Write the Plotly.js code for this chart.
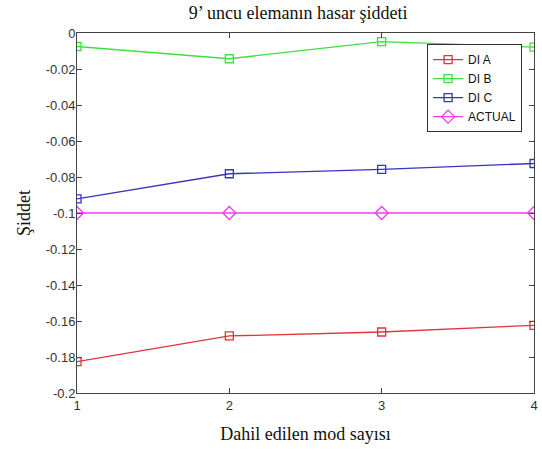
<!DOCTYPE html>
<html><head><meta charset="utf-8">
<script src="https://cdn.plot.ly/plotly-3.0.1.min.js"></script>
<style>html,body{margin:0;padding:0;background:#fff}#c{width:542px;height:452px}</style>
</head><body><div id="c"></div>
<script>
const modes = [1, 2, 3, 4];
const diA = [-0.1826, -0.1683, -0.1661, -0.1624];
const diB = [-0.0075, -0.0143, -0.0048, -0.0078];
const diC = [-0.0922, -0.0782, -0.0758, -0.0725];
const actual = [-0.1, -0.1, -0.1, -0.1];
const names = ['DI A', 'DI B', 'DI C', 'ACTUAL'];
const yTickVals = [0, -0.02, -0.04, -0.06, -0.08, -0.1, -0.12, -0.14, -0.16, -0.18, -0.2];
const yTickText = ['0', '-0.02', '-0.04', '-0.06', '-0.08', '-0.1', '-0.12', '-0.14', '-0.16', '-0.18', '-0.2'];
const xTickVals = [1, 2, 3, 4];

function tr(y, name, color, sym, size) {
  return {x: modes, y: y, name: name, type: 'scatter', mode: 'lines+markers',
    line: {color: color, width: 1.3},
    marker: {symbol: sym, size: size, color: color, line: {width: 1.3}}};
}
const data = [
  tr(diA, names[0], '#e0343c', 'square-open', 8),
  tr(diB, names[1], '#3ee03e', 'square-open', 8),
  tr(diC, names[2], '#3535c2', 'square-open', 8),
  tr(actual, names[3], '#ee3cee', 'diamond-open', 10)
];
const axCommon = {showgrid: false, zeroline: false, showline: true, linecolor: '#444', linewidth: 1,
  mirror: 'ticks', ticks: 'inside', ticklen: 5, tickcolor: '#444',
  tickfont: {family: 'Liberation Sans, Arial, sans-serif', size: 13, color: '#333'}};
const layout = {
  width: 542, height: 452,
  margin: {l: 77, r: 8, t: 33, b: 59},
  paper_bgcolor: '#fff', plot_bgcolor: '#fff',
  showlegend: true,
  title: {text: '9’ uncu elemanın hasar şiddeti', x: 0.55, xanchor: 'center', y: 0.972, yanchor: 'middle',
    font: {family: 'Liberation Serif, Times New Roman, serif', size: 18, color: '#111'}},
  xaxis: Object.assign({}, axCommon, {range: [1, 4], tickvals: xTickVals, ticktext: xTickVals.map(String),
    title: {text: 'Dahil edilen mod sayısı', standoff: 15,
      font: {family: 'Liberation Serif, Times New Roman, serif', size: 18, color: '#111'}}}),
  yaxis: Object.assign({}, axCommon, {range: [-0.2, 0], tickvals: yTickVals, ticktext: yTickText,
    ticklabelstandoff: -2,
    title: {text: 'Şiddet', standoff: 10,
      font: {family: 'Liberation Serif, Times New Roman, serif', size: 18, color: '#111'}}}),
  legend: {x: 0.974, xanchor: 'right', y: 0.969, yanchor: 'top', bgcolor: '#fff',
    bordercolor: '#333', borderwidth: 1, tracegroupgap: 0, itemwidth: 30,
    font: {family: 'Liberation Sans, Arial, sans-serif', size: 12, color: '#111'}}
};
Plotly.newPlot('c', data, layout, {displayModeBar: false, staticPlot: true});
</script></body></html>
